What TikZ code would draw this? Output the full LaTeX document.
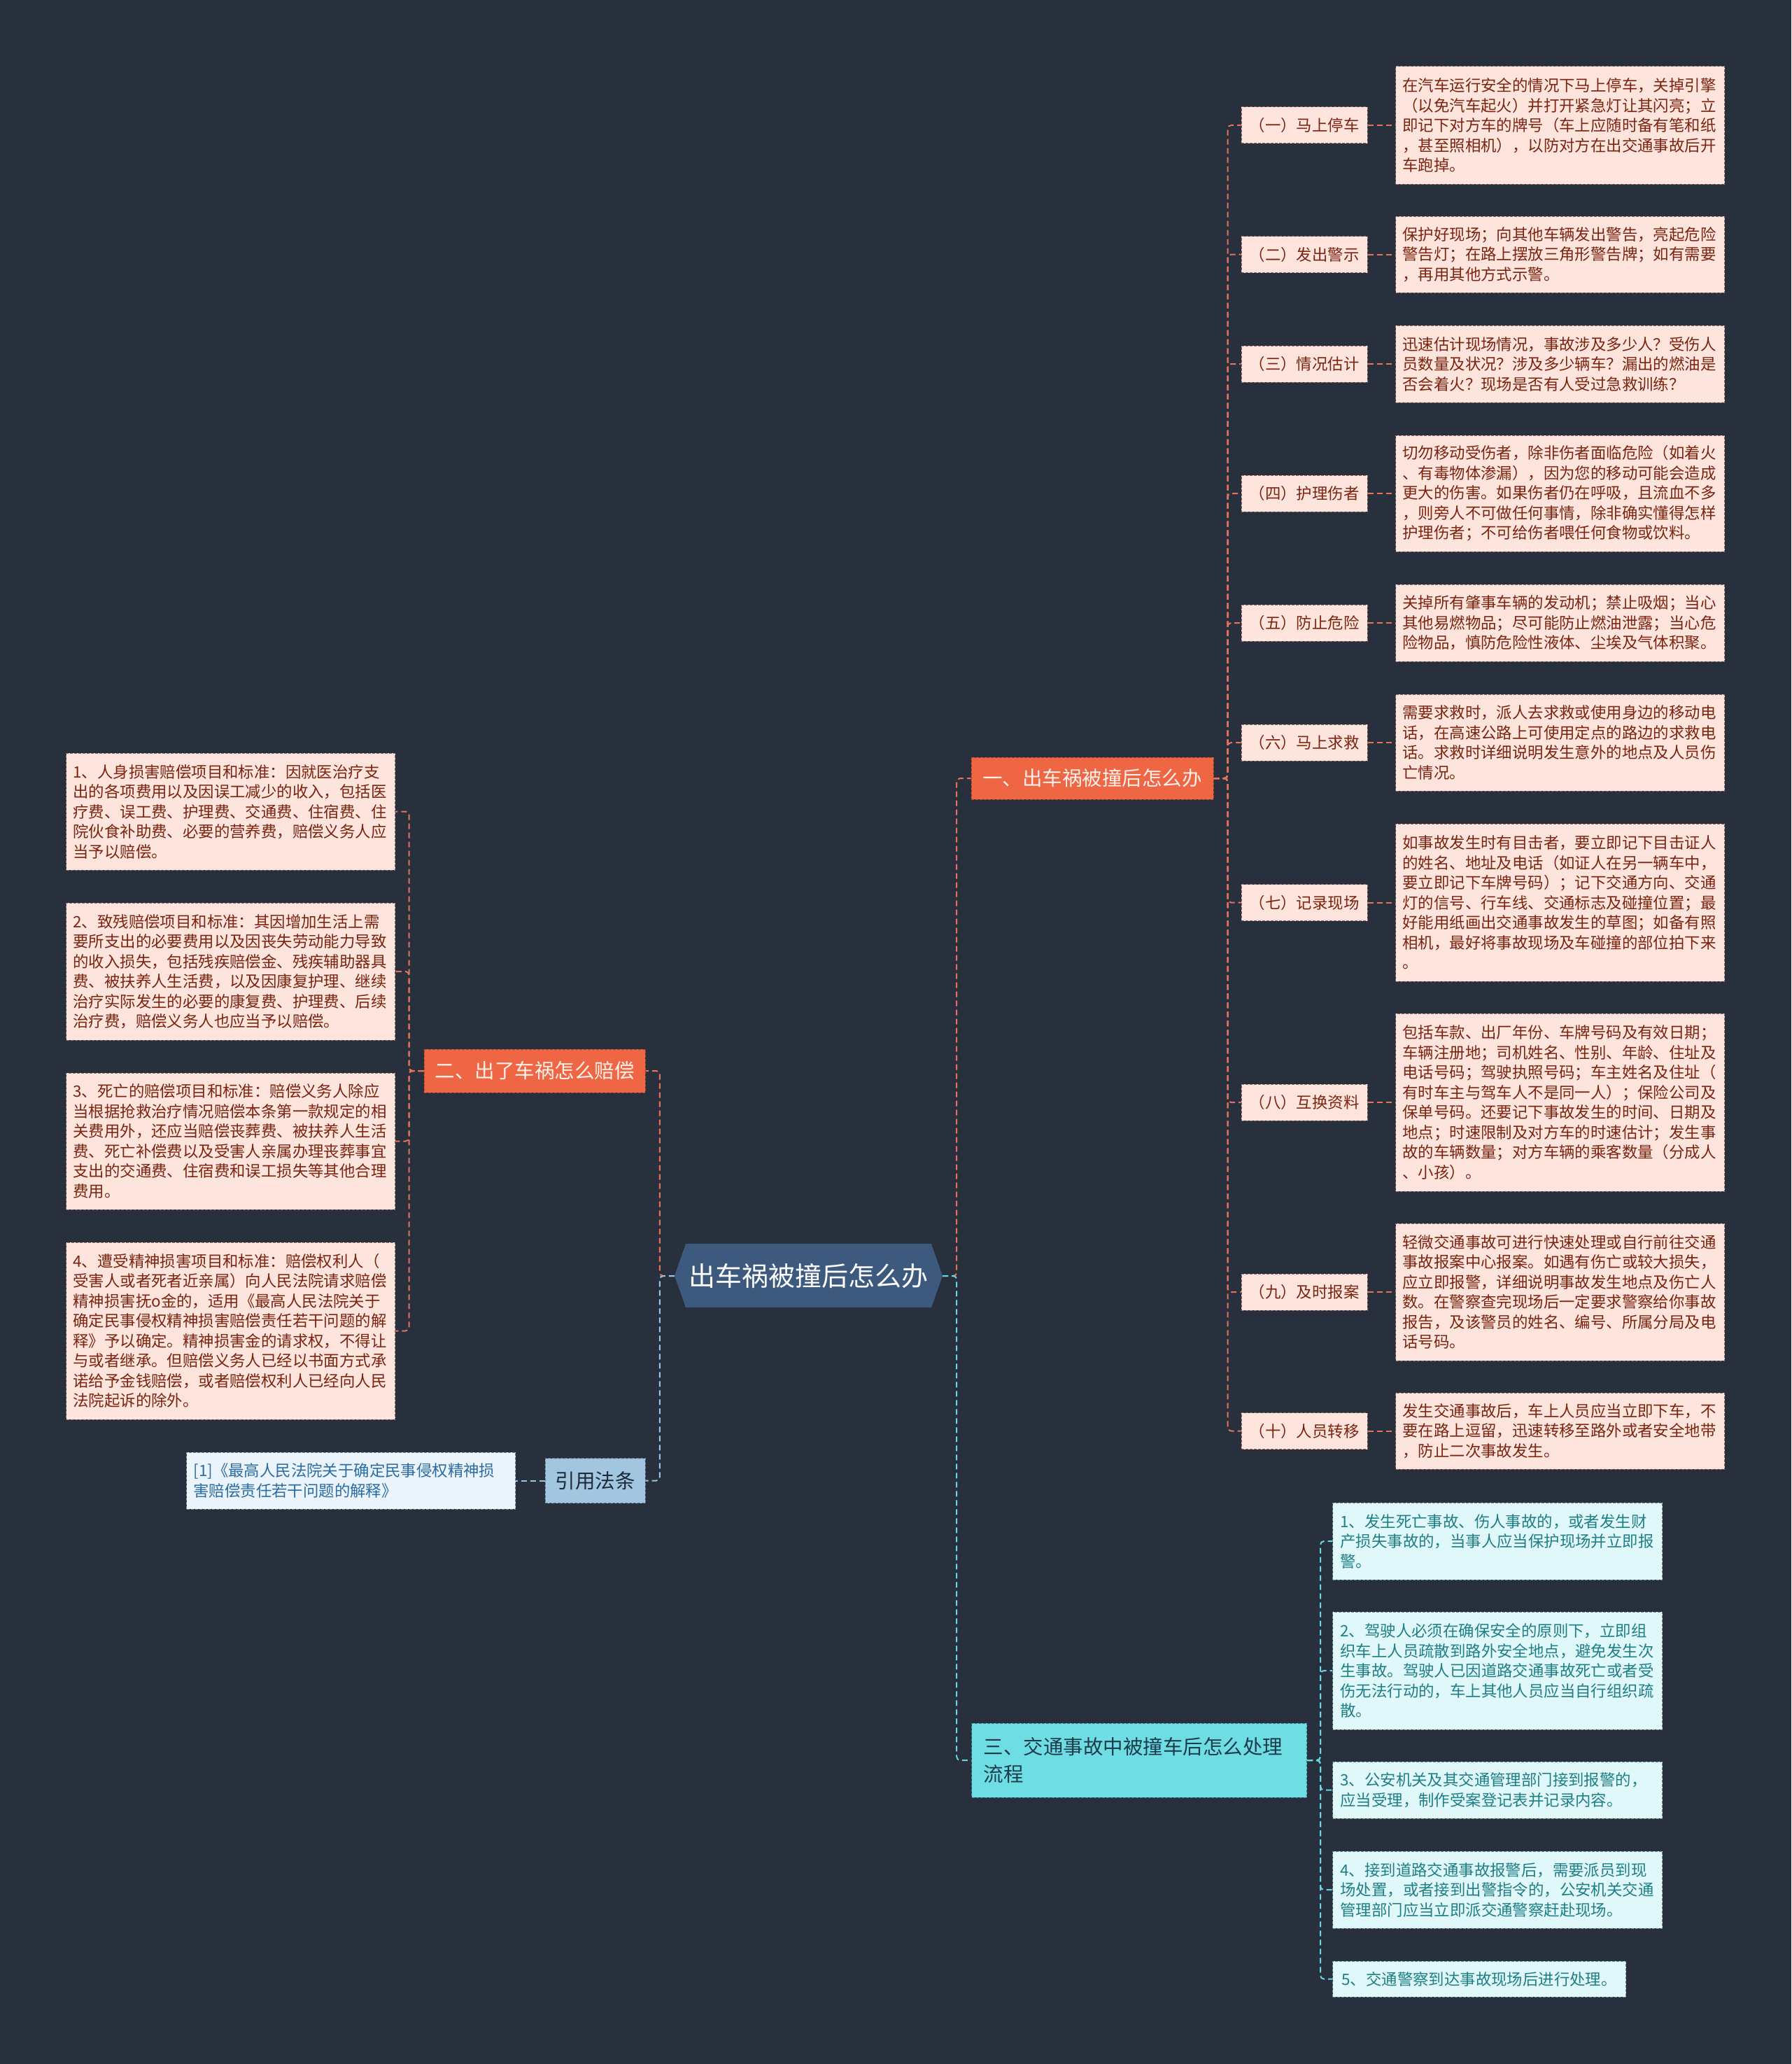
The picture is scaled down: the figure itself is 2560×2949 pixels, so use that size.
\documentclass[tikz,border=0pt]{standalone}
\usepackage{fontspec}
\newfontfamily\cjk{Noto Sans CJK SC}
\definecolor{bgc}{HTML}{282F3D}
\definecolor{hexc}{HTML}{3D5A7E}
\definecolor{orf}{HTML}{EE6644}
\definecolor{ortext}{HTML}{FFF1EA}
\definecolor{pinkf}{HTML}{FDE4DC}
\definecolor{pinkt}{HTML}{7B2410}
\definecolor{pinkb}{HTML}{8E6E66}
\definecolor{orl}{HTML}{E8735A}
\definecolor{cyf}{HTML}{6EDEE4}
\definecolor{cyt}{HTML}{1D3B4B}
\definecolor{cylf}{HTML}{E0F8F9}
\definecolor{cylt}{HTML}{1E7F86}
\definecolor{cylb}{HTML}{6A8F90}
\definecolor{cyl}{HTML}{66D8E0}
\definecolor{blf}{HTML}{A2C6E0}
\definecolor{blt}{HTML}{1D2A3A}
\definecolor{bllf}{HTML}{EAF4FA}
\definecolor{bllt}{HTML}{2B6CA3}
\definecolor{bllb}{HTML}{7A8E9A}
\definecolor{bll}{HTML}{9DC5E3}
\newcommand{\dfont}{\cjk\fontsize{22.4pt}{28.5pt}\selectfont}
\newcommand{\bfnt}{\cjk\fontsize{28.5pt}{39pt}\selectfont}
\newcommand{\tfnt}{\cjk\fontsize{38pt}{46pt}\selectfont}
\tikzset{
  boxline/.style={line width=1pt, dash pattern=on 4pt off 2pt},
  det/.style={boxline, draw=pinkb, fill=pinkf, text=pinkt, font=\dfont,
    text width=450pt, align=left, inner xsep=10pt, inner ysep=0pt, anchor=west},
  lab/.style={boxline, draw=pinkb, fill=pinkf, text=pinkt, font=\dfont,
    minimum width=180pt, minimum height=52pt, inner sep=0pt},
  cdet/.style={boxline, draw=cylb, fill=cylf, text=cylt, font=\dfont,
    text width=449pt, align=left, inner xsep=11pt, inner ysep=0pt, anchor=west},
  bdet/.style={boxline, draw=bllb, fill=bllf, text=bllt, font=\dfont,
    text width=450pt, align=left, inner xsep=10pt, inner ysep=0pt},
  orbranch/.style={boxline, draw=orf!70!black, fill=orf, text=ortext, font=\bfnt,
    inner sep=0pt, minimum height=60pt},
  conn/.style={line width=2pt, dash pattern=on 8pt off 5pt, rounded corners=5pt},
  conO/.style={conn, draw=orl},
  conC/.style={conn, draw=cyl},
  conB/.style={conn, draw=bll},
}
\begin{document}
\begin{tikzpicture}[x=1pt,y=-1pt]
\fill[bgc] (0,0) rectangle (2560,2949);
\useasboundingbox (0,0) rectangle (2560,2949);

% centre hexagon
\fill[hexc] (964,1823) -- (980,1777) -- (1331,1777) -- (1347,1823) -- (1331,1868) -- (980,1868) -- cycle;
\node[font=\tfnt, text=white, minimum width=383pt, minimum height=91pt, inner sep=0pt] (c) at (1155.5,1823) {出车祸被撞后怎么办};

% branch nodes
\node[orbranch, minimum width=346pt] (b1) at (1561,1112) {一、出车祸被撞后怎么办};
\node[orbranch, minimum width=316pt, minimum height=62pt] (b2) at (764,1530) {二、出了车祸怎么赔偿};
\node[boxline, draw=cyt!60!cyf, fill=cyf, text=cyt, font=\bfnt, text width=445pt, align=left,
  inner xsep=17pt, inner ysep=0pt, minimum height=106pt, anchor=west] (b3) at (1388,2515)
  {三、交通事故中被撞车后怎么处理\\流程};
\node[boxline, draw=blt!50!blf, fill=blf, text=blt, font=\bfnt, minimum width=143pt,
  minimum height=64pt, inner sep=0pt] (b4) at (850.5,2115.5) {引用法条};

% right labels
\node[lab] (l1) at (1864,179) {（一）马上停车};
\node[lab] (l2) at (1864,363.5) {（二）发出警示};
\node[lab] (l3) at (1864,520) {（三）情况估计};
\node[lab] (l4) at (1864,705) {（四）护理伤者};
\node[lab] (l5) at (1864,890) {（五）防止危险};
\node[lab] (l6) at (1864,1061) {（六）马上求救};
\node[lab] (l7) at (1864,1289.5) {（七）记录现场};
\node[lab] (l8) at (1864,1575) {（八）互换资料};
\node[lab] (l9) at (1864,1846) {（九）及时报案};
\node[lab] (l10) at (1864,2044.5) {（十）人员转移};

% right details
\node[det, minimum height=168pt] (d1) at (1994,179) {在汽车运行安全的情况下马上停车，关掉引擎\\（以免汽车起火）并打开紧急灯让其闪亮；立\\即记下对方车的牌号（车上应随时备有笔和纸\\，甚至照相机），以防对方在出交通事故后开\\车跑掉。};
\node[det, minimum height=109pt] (d2) at (1994,363.5) {保护好现场；向其他车辆发出警告，亮起危险\\警告灯；在路上摆放三角形警告牌；如有需要\\，再用其他方式示警。};
\node[det, minimum height=110pt] (d3) at (1994,520) {迅速估计现场情况，事故涉及多少人？受伤人\\员数量及状况？涉及多少辆车？漏出的燃油是\\否会着火？现场是否有人受过急救训练？};
\node[det, minimum height=166pt] (d4) at (1994,705) {切勿移动受伤者，除非伤者面临危险（如着火\\、有毒物体渗漏），因为您的移动可能会造成\\更大的伤害。如果伤者仍在呼吸，且流血不多\\，则旁人不可做任何事情，除非确实懂得怎样\\护理伤者；不可给伤者喂任何食物或饮料。};
\node[det, minimum height=110pt] (d5) at (1994,890) {关掉所有肇事车辆的发动机；禁止吸烟；当心\\其他易燃物品；尽可能防止燃油泄露；当心危\\险物品，慎防危险性液体、尘埃及气体积聚。};
\node[det, minimum height=138pt] (d6) at (1994,1061) {需要求救时，派人去求救或使用身边的移动电\\话，在高速公路上可使用定点的路边的求救电\\话。求救时详细说明发生意外的地点及人员伤\\亡情况。};
\node[det, minimum height=225pt] (d7) at (1994,1289.5) {如事故发生时有目击者，要立即记下目击证人\\的姓名、地址及电话（如证人在另一辆车中，\\要立即记下车牌号码）；记下交通方向、交通\\灯的信号、行车线、交通标志及碰撞位置；最\\好能用纸画出交通事故发生的草图；如备有照\\相机，最好将事故现场及车碰撞的部位拍下来\\。};
\node[det, minimum height=254pt] (d8) at (1994,1575) {包括车款、出厂年份、车牌号码及有效日期；\\车辆注册地；司机姓名、性别、年龄、住址及\\电话号码；驾驶执照号码；车主姓名及住址（\\有时车主与驾车人不是同一人）；保险公司及\\保单号码。还要记下事故发生的时间、日期及\\地点；时速限制及对方车的时速估计；发生事\\故的车辆数量；对方车辆的乘客数量（分成人\\、小孩）。};
\node[det, minimum height=196pt] (d9) at (1994,1846) {轻微交通事故可进行快速处理或自行前往交通\\事故报案中心报案。如遇有伤亡或较大损失，\\应立即报警，详细说明事故发生地点及伤亡人\\数。在警察查完现场后一定要求警察给你事故\\报告，及该警员的姓名、编号、所属分局及电\\话号码。};
\node[det, minimum height=109pt] (d10) at (1994,2044.5) {发生交通事故后，车上人员应当立即下车，不\\要在路上逗留，迅速转移至路外或者安全地带\\，防止二次事故发生。};

% left details
\node[det, anchor=east, minimum height=167pt] (e1) at (565,1159.5) {1、人身损害赔偿项目和标准：因就医治疗支\\出的各项费用以及因误工减少的收入，包括医\\疗费、误工费、护理费、交通费、住宿费、住\\院伙食补助费、必要的营养费，赔偿义务人应\\当予以赔偿。};
\node[det, anchor=east, minimum height=196pt] (e2) at (565,1388) {2、致残赔偿项目和标准：其因增加生活上需\\要所支出的必要费用以及因丧失劳动能力导致\\的收入损失，包括残疾赔偿金、残疾辅助器具\\费、被扶养人生活费，以及因康复护理、继续\\治疗实际发生的必要的康复费、护理费、后续\\治疗费，赔偿义务人也应当予以赔偿。};
\node[det, anchor=east, minimum height=195pt] (e3) at (565,1630.5) {3、死亡的赔偿项目和标准：赔偿义务人除应\\当根据抢救治疗情况赔偿本条第一款规定的相\\关费用外，还应当赔偿丧葬费、被扶养人生活\\费、死亡补偿费以及受害人亲属办理丧葬事宜\\支出的交通费、住宿费和误工损失等其他合理\\费用。};
\node[det, anchor=east, minimum height=253pt] (e4) at (565,1901.5) {4、遭受精神损害项目和标准：赔偿权利人（\\受害人或者死者近亲属）向人民法院请求赔偿\\精神损害抚o金的，适用《最高人民法院关于\\确定民事侵权精神损害赔偿责任若干问题的解\\释》予以确定。精神损害金的请求权，不得让\\与或者继承。但赔偿义务人已经以书面方式承\\诺给予金钱赔偿，或者赔偿权利人已经向人民\\法院起诉的除外。};

% citation
\node[bdet, anchor=east, minimum height=81pt] (cite) at (737,2115.5) {[1]《最高人民法院关于确定民事侵权精神损\\害赔偿责任若干问题的解释》};

% cyan details
\node[cdet, minimum height=110pt] (f1) at (1904,2202) {1、发生死亡事故、伤人事故的，或者发生财\\产损失事故的，当事人应当保护现场并立即报\\警。};
\node[cdet, minimum height=168pt] (f2) at (1904,2387) {2、驾驶人必须在确保安全的原则下，立即组\\织车上人员疏散到路外安全地点，避免发生次\\生事故。驾驶人已因道路交通事故死亡或者受\\伤无法行动的，车上其他人员应当自行组织疏\\散。};
\node[cdet, minimum height=81pt] (f3) at (1904,2557.5) {3、公安机关及其交通管理部门接到报警的，\\应当受理，制作受案登记表并记录内容。};
\node[cdet, minimum height=110pt] (f4) at (1904,2700) {4、接到道路交通事故报警后，需要派员到现\\场处置，或者接到出警指令的，公安机关交通\\管理部门应当立即派交通警察赶赴现场。};
\node[cdet, text width=, inner xsep=13pt, minimum height=51pt] (f5) at (1904,2827.5) {5、交通警察到达事故现场后进行处理。};

% connectors
\draw[conO] (c.east) -- ++(20,0) |- (b1.west);
\draw[conO] (c.west) -- ++(-21,0) |- (b2.east);
\draw[conC] (c.east) -- ++(20,0) |- (b3.west);
\draw[conB] (c.west) -- ++(-21,0) |- (b4.east);
\foreach \i in {1,...,10}{
  \draw[conO] (b1.east) -- ++(20,0) |- (l\i.west);
  \draw[conO] (l\i.east) -- (d\i.west);
}
\foreach \i in {1,...,4}{
  \draw[conO] (b2.west) -- ++(-21,0) |- (e\i.east);
}
\draw[conB] (b4.west) -- (cite.east);
\foreach \i in {1,...,5}{
  \draw[conC] (b3.east) -- ++(19,0) |- (f\i.west);
}
\end{tikzpicture}
\end{document}
